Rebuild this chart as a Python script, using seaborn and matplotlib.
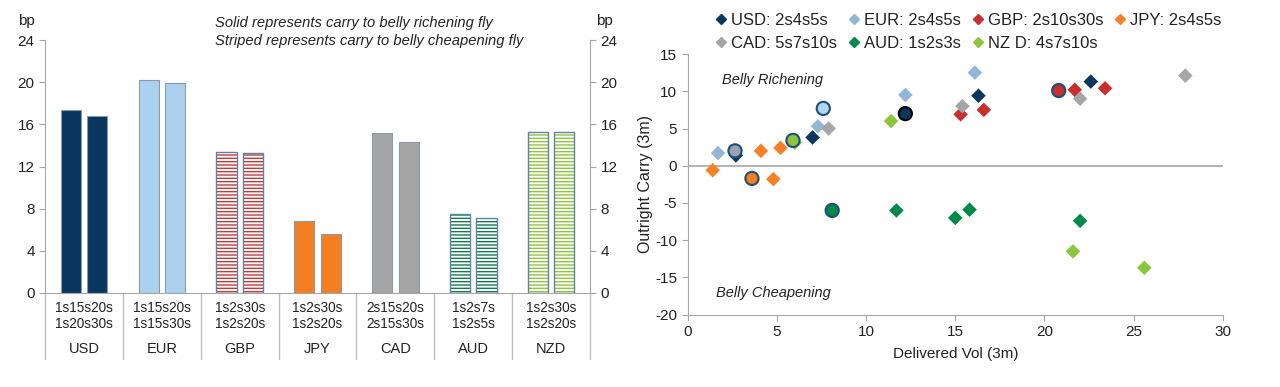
import numpy as np
import pandas as pd
import matplotlib
matplotlib.use("Agg")
import matplotlib.pyplot as plt
import matplotlib.colors as mcolors
from matplotlib.lines import Line2D
import seaborn as sns

# data: left panel (carry per fly, bp)
currencies = ["USD", "EUR", "GBP", "JPY", "CAD", "AUD", "NZD"]
fly_first = ["1s15s20s", "1s15s20s", "1s2s30s", "1s2s30s", "2s15s20s", "1s2s7s", "1s2s30s"]
fly_second = ["1s20s30s", "1s15s30s", "1s2s20s", "1s2s20s", "2s15s30s", "1s2s5s", "1s2s20s"]
carry_first = [17.4, 20.2, 13.4, 6.8, 15.2, 7.5, 15.3]
carry_second = [16.8, 19.9, 13.3, 5.6, 14.3, 7.1, 15.3]
striped = [False, False, True, False, False, True, True]

# data: right panel (delivered vol vs outright carry, 3m)
legend_labels = ["USD: 2s4s5s", "EUR: 2s4s5s", "GBP: 2s10s30s", "JPY: 2s4s5s",
                 "CAD: 5s7s10s", "AUD: 1s2s3s", "NZ D: 4s7s10s"]
usd_vol, usd_carry = [2.7, 7.0, 16.3, 22.6], [1.4, 3.8, 9.4, 11.3]
eur_vol, eur_carry = [1.7, 7.3, 12.2, 16.1], [1.7, 5.3, 9.5, 12.5]
gbp_vol, gbp_carry = [15.3, 16.6, 21.7, 23.4], [6.9, 7.5, 10.2, 10.4]
jpy_vol, jpy_carry = [1.4, 4.1, 5.2, 4.8], [-0.6, 2.0, 2.4, -1.8]
cad_vol, cad_carry = [7.9, 15.4, 22.0, 27.9], [5.0, 8.0, 9.0, 12.1]
aud_vol, aud_carry = [11.7, 15.0, 15.8, 22.0], [-6.0, -7.0, -5.9, -7.4]
nzd_vol, nzd_carry = [6.0, 11.4, 21.6, 25.6], [3.1, 6.0, -11.5, -13.7]
# highlighted (circled) fly per currency
circ_vol = [12.2, 7.6, 20.8, 3.6, 2.65, 8.1, 5.9]
circ_carry = [7.0, 7.7, 10.1, -1.7, 2.0, -6.0, 3.4]

bar_colors = ["#08365e", "#abd1ef", "#c0393b", "#f47f20", "#a5a5a5", "#137a4e", "#8dc63f"]
dot_colors = ["#08365e", "#92b6d5", "#c8302f", "#f68024", "#a6a6a6", "#008a4a", "#8cc63f"]
circ_colors = ["#08365e", "#b3d7f2", "#c8302f", "#f47f20", "#9aa3b3", "#00874a", "#8cc63f"]
circ_edges = ["#000000", "#1f4e79", "#1f4e79", "#1f4e79", "#1f4e79", "#1f4e79", "#1f4e79"]

sns.set_style("white")
plt.rcParams["font.family"] = ["Liberation Sans", "DejaVu Sans"]
plt.rcParams["axes.unicode_minus"] = False
plt.rcParams["hatch.linewidth"] = 1.0
axis_gray = "#a6a6a6"
txt = "#222222"

fig = plt.figure(figsize=(12.8, 3.87), dpi=100)

# ---------- left panel: bars ----------
ax1 = fig.add_axes([0.0352, 0.2429, 0.4258, 0.6537])
bars = pd.DataFrame({
    "ccy": currencies * 2,
    "pair": ["a"] * 7 + ["b"] * 7,
    "carry": carry_first + carry_second,
})
sns.barplot(data=bars, x="ccy", y="carry", hue="pair", order=currencies,
            width=0.68, gap=0.24, legend=False, ax=ax1)

for p in ax1.patches:
    i = int(round(p.get_x() + p.get_width() / 2))
    if striped[i]:
        p.set_facecolor("white")
        p.set_edgecolor("#5f82a6")
        p.set_linewidth(1.0)
        p.set_hatch("-----")
        p._hatch_color = mcolors.to_rgba(bar_colors[i])
    else:
        p.set_facecolor(bar_colors[i])
        p.set_edgecolor("#8c9aa8")
        p.set_linewidth(0.8)

ax1.set_xlim(-0.5, 6.5)
ax1.set_ylim(0, 24)
ax1.set_yticks(np.arange(0, 25, 4))
ax1.set_xticks(range(7))
ax1.set_xticklabels([f"{a}\n{b}" for a, b in zip(fly_first, fly_second)],
                    fontsize=9.8, color=txt, linespacing=1.15)
ax1.tick_params(axis="x", length=0, pad=6)
ax1.tick_params(axis="y", direction="out", length=4, color=axis_gray,
                labelsize=11, labelcolor=txt, left=True)
ax1.set_xlabel("")
ax1.set_ylabel("")
for s in ["top", "right"]:
    ax1.spines[s].set_visible(False)
for s in ["left", "bottom"]:
    ax1.spines[s].set_color(axis_gray)

ax1r = ax1.twinx()
ax1r.set_ylim(0, 24)
ax1r.set_yticks(np.arange(0, 25, 4))
ax1r.tick_params(axis="y", direction="out", length=4, color=axis_gray,
                 labelsize=11, labelcolor=txt)
for s in ["top", "left", "bottom"]:
    ax1r.spines[s].set_visible(False)
ax1r.spines["right"].set_color(axis_gray)

trans = ax1.get_xaxis_transform()
for k in range(8):
    ax1.plot([k - 0.5, k - 0.5], [0, -0.26], transform=trans, color="#bfbfbf",
             lw=1, clip_on=False)
for i, c in enumerate(currencies):
    ax1.text(i, -0.222, c, transform=trans, ha="center", va="center",
             fontsize=10.5, color=txt)

ax1.text(-0.034, 1.075, "bp", transform=ax1.transAxes, ha="center", va="center",
         fontsize=11, color=txt)
ax1.text(1.026, 1.075, "bp", transform=ax1.transAxes, ha="center", va="center",
         fontsize=11, color=txt)
ax1.text(0.312, 1.093, "Solid represents carry to belly richening fly\n"
         "Striped represents carry to belly cheapening fly",
         transform=ax1.transAxes, ha="left", va="top", fontsize=10.6,
         style="italic", color=txt, linespacing=1.3)

# ---------- right panel: scatter ----------
ax2 = fig.add_axes([0.5373, 0.1868, 0.418, 0.6736])
vols = [usd_vol, eur_vol, gbp_vol, jpy_vol, cad_vol, aud_vol, nzd_vol]
carries = [usd_carry, eur_carry, gbp_carry, jpy_carry, cad_carry, aud_carry, nzd_carry]
pts = pd.DataFrame({
    "ccy": np.repeat(currencies, [len(v) for v in vols]),
    "vol": np.concatenate(vols),
    "carry": np.concatenate(carries),
})
ax2.axhline(0, color=axis_gray, lw=1.2, zorder=1)
sns.scatterplot(data=pts, x="vol", y="carry", hue="ccy", hue_order=currencies,
                palette=dict(zip(currencies, dot_colors)), marker="D", s=55,
                linewidth=0, legend=False, ax=ax2, zorder=3)
circ = pd.DataFrame({"ccy": currencies, "vol": circ_vol, "carry": circ_carry})
sns.scatterplot(data=circ, x="vol", y="carry", hue="ccy", hue_order=currencies,
                palette=dict(zip(currencies, circ_colors)), marker="o", s=90,
                edgecolor=circ_edges, linewidth=1.5, legend=False, ax=ax2, zorder=4)

ax2.set_xlim(0, 30)
ax2.set_ylim(-20, 15)
ax2.set_xticks(np.arange(0, 31, 5))
ax2.set_yticks(np.arange(-20, 16, 5))
ax2.tick_params(direction="out", length=4, color=axis_gray, labelsize=11,
                labelcolor=txt, left=True, bottom=True)
ax2.set_xlabel("Delivered Vol (3m)", fontsize=11, color=txt, labelpad=6)
ax2.set_ylabel("Outright Carry (3m)", fontsize=11.5, color=txt, labelpad=2)
for s in ["top", "right"]:
    ax2.spines[s].set_visible(False)
for s in ["left", "bottom"]:
    ax2.spines[s].set_color(axis_gray)

ax2.text(1.9, 11.5, "Belly Richening", fontsize=10.5, style="italic",
         color=txt, va="center")
ax2.text(1.56, -17.1, "Belly Cheapening", fontsize=10.5, style="italic",
         color=txt, va="center")

handles = [Line2D([], [], marker="D", ls="", color=c, markersize=5.5)
           for c in dot_colors]
order = [0, 4, 1, 5, 2, 6, 3]
ax2.legend([handles[i] for i in order], [legend_labels[i] for i in order],
           ncol=4, frameon=False, loc="lower left", bbox_to_anchor=(0.035, 0.985),
           fontsize=12, handletextpad=0.1, columnspacing=0.5, labelspacing=0.5,
           borderaxespad=0, handlelength=1.0, labelcolor=txt)

fig.savefig("out.png", dpi=100)
